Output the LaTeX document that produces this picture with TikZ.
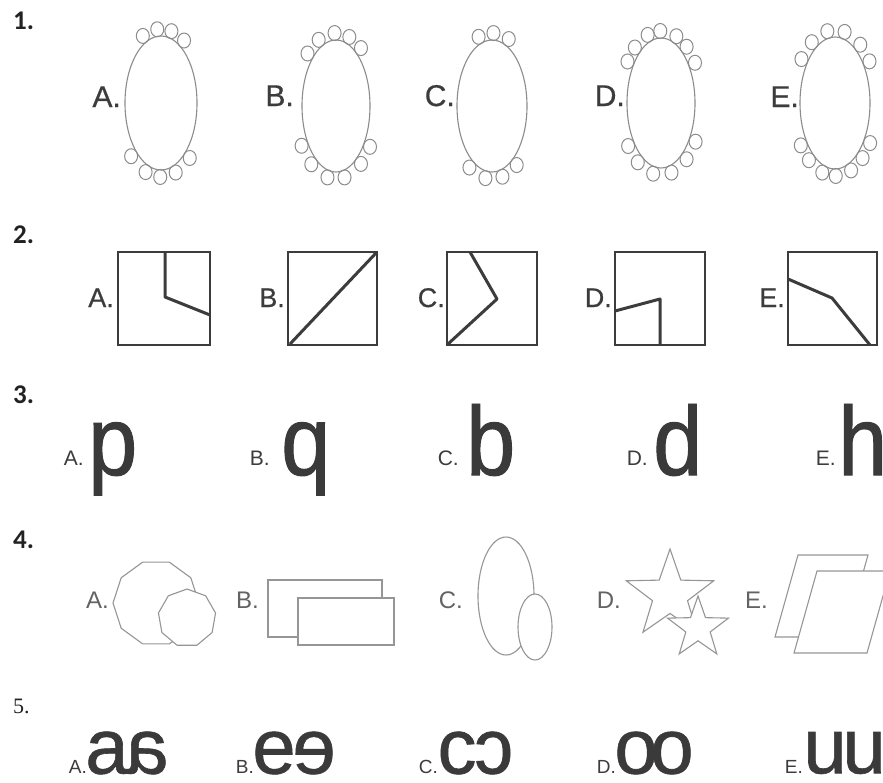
\documentclass[tikz,border=0pt]{standalone}
\usepackage{fontspec}
\setmainfont{Liberation Sans}
\newfontfamily\numfont{Carlito}
\newfontfamily\serfont{Liberation Serif}
\newfontfamily\bigfont[FakeStretch=0.9, FakeBold=1]{Liberation Sans}
\newfontfamily\pairfont[FakeBold=0.8]{Liberation Sans}
\newfontfamily\labfont[FakeBold=0.6]{Liberation Sans}
\usetikzlibrary{shapes.geometric}
\definecolor{labc}{RGB}{60,60,60}
\definecolor{ringc}{RGB}{140,140,140}
\definecolor{boxc}{RGB}{60,60,60}
\definecolor{shapec}{RGB}{150,150,150}
\definecolor{bigc}{RGB}{58,58,58}
\definecolor{numc}{RGB}{34,34,34}
\begin{document}
\begin{tikzpicture}[x=1pt,y=-1pt,
  num/.style={font=\numfont\bfseries\fontsize{27}{27}\selectfont, text=numc, anchor=base west, inner sep=0},
  numser/.style={font=\serfont\fontsize{22}{22}\selectfont, text=numc, anchor=base west, inner sep=0},
  labA/.style={font=\labfont\fontsize{30}{30}\selectfont, text=labc, anchor=base east, inner sep=0},
  labB/.style={font=\labfont\fontsize{27}{27}\selectfont, text=labc, anchor=base east, inner sep=0},
  labC/.style={font=\fontsize{21}{21}\selectfont, text=labc, anchor=base east, inner sep=0},
  labD/.style={font=\fontsize{24}{24}\selectfont, text=labc!80, anchor=base east, inner sep=0},
  labE/.style={font=\fontsize{19}{19}\selectfont, text=labc, anchor=base east, inner sep=0},
  ring/.style={draw=ringc, line width=1.1pt},
  bead/.style={draw=ringc, line width=1pt},
  sq/.style={draw=boxc, line width=1.8pt},
  cut/.style={draw=boxc, line width=3pt, line join=round},
  thin/.style={draw=shapec, line width=1.1pt, fill=white},
  big/.style={font=\bigfont\fontsize{98}{98}\selectfont, text=bigc, anchor=base west, inner sep=0},
  pair/.style={font=\pairfont\fontsize{78}{78}\selectfont, text=bigc, anchor=center, inner sep=0},
]
\useasboundingbox[fill=white] (0,0) rectangle (883,782);

% ---------- row 1
\node[num] (n1) at (13,29) {1.};
\node[labA] (l1a) at (121,107) {A.};
\draw[ring] (161,103) ellipse [x radius=36, y radius=67];
\foreach \t in {115,95,76,57.6,226,249,269,290,312}
  \draw[bead] ([shift={(161,103)}]-\t:43 and 74) ellipse [x radius=6.5, y radius=7.5];
\node[labA] (l1b) at (294,106) {B.};
\draw[ring] (336,106) ellipse [x radius=34, y radius=66];
\foreach \t in {134,115,92,71,52.5,213,233,258,282,307.5,326}
  \draw[bead] ([shift={(336,106)}]-\t:41 and 73) ellipse [x radius=6.5, y radius=7.5];
\node[labA] (l1c) at (455,106) {C.};
\draw[ring] (492,106) ellipse [x radius=35, y radius=66];
\foreach \t in {108.6,88,66.5,237.5,261,284.4,306}
  \draw[bead] ([shift={(492,106)}]-\t:42 and 73) ellipse [x radius=6.5, y radius=7.5];
\node[labA] (l1d) at (625,106) {D.};
\draw[ring] (661,103) ellipse [x radius=34, y radius=65];
\foreach \t in {144.8,129.6,109,91,68,51.4,34,216.7,235.5,259,284.8,308.6,327.5}
  \draw[bead] ([shift={(661,103)}]-\t:41 and 72) ellipse [x radius=6.5, y radius=7.5];
\node[labA] (l1e) at (799,107) {E.};
\draw[ring] (835,103) ellipse [x radius=35, y radius=66];
\foreach \t in {143,123.6,100.5,76.8,53,34.8,215.5,231.6,252.4,271,292.5,311,326.7}
  \draw[bead] ([shift={(835,103)}]-\t:42 and 73) ellipse [x radius=6.5, y radius=7.5];

% ---------- row 2
\node[num] (n2) at (13,243) {2.};
\node[labB] (l2a) at (114,307) {A.};
\draw[sq] (118,252) rectangle (210,345);
\draw[cut] (165,252) -- (165,297) -- (210,315);
\node[labB] (l2b) at (285,307) {B.};
\draw[sq] (288,252) rectangle (377,345);
\draw[cut] (290,344) -- (376,253);
\node[labB] (l2c) at (445,307) {C.};
\draw[sq] (447,252) rectangle (537,345);
\draw[cut] (470,252) -- (497,299) -- (448,344);
\node[labB] (l2d) at (612,307) {D.};
\draw[sq] (615,252) rectangle (705,345);
\draw[cut] (615,311) -- (660,299) -- (660,345);
\node[labB] (l2e) at (785,307) {E.};
\draw[sq] (788,252) rectangle (877,345);
\draw[cut] (788,279) -- (832,298) -- (870,345);

% ---------- row 3
\node[num] (n3) at (13,403) {3.};
\node[labC] (l3a) at (84,465) {A.};
\node[big] (g3a) at (88,475) {p};
\node[labC] (l3b) at (270,465) {B.};
\node[big] (g3b) at (281,475) {q};
\node[labC] (l3c) at (459,465) {C.};
\node[big] (g3c) at (466,475) {b};
\node[labC] (l3d) at (648,465) {D.};
\node[big] (g3d) at (653,475) {d};
\node[labC] (l3e) at (836,465) {E.};
\node[big] (g3e) at (838,475) {h};

% ---------- row 4
\node[num] (n4) at (13,548) {4.};
\node[labD] (l4a) at (109,608) {A.};
\node[thin, regular polygon, regular polygon sides=10, minimum size=86pt, inner sep=0] (p4a1) at (156,603) {};
\node[thin, regular polygon, regular polygon sides=9, minimum size=58pt, inner sep=0] (p4a2) at (187,618) {};
\node[labD] (l4b) at (259,608) {B.};
\draw[thin] (268,580) rectangle (382,637);
\draw[thin] (298,598) rectangle (394,645);
\node[labD] (l4c) at (463,608) {C.};
\draw[thin] (506,596) ellipse [x radius=28, y radius=59];
\draw[thin] (535,627) ellipse [x radius=17, y radius=33];
\node[labD] (l4d) at (621,608) {D.};
\node[thin, star, star points=5, star point ratio=2.5, minimum size=92pt, inner sep=0] (s4d1) at (670,595) {};
\node[thin, star, star points=5, star point ratio=2.5, minimum size=64pt, inner sep=0] (s4d2) at (698,628) {};
\node[labD] (l4e) at (768,608) {E.};
\draw[thin] (798,555) -- (868,555) -- (845,637) -- (775,637) -- cycle;
\draw[thin] (817,571) -- (890,571) -- (867,653) -- (794,653) -- cycle;

% ---------- row 5
\node[numser] (n5) at (13,713) {5.};
\node[labE] (l5a) at (87,773) {A.};
\node[pair] (g5a1) at (107,753) {a};
\node[pair] (g5a2) at (147,753) {\reflectbox{a}};
\node[labE] (l5b) at (254,773) {B.};
\node[pair] (g5b1) at (274,753) {e};
\node[pair] (g5b2) at (314,753) {\reflectbox{e}};
\node[labE] (l5c) at (438,773) {C.};
\node[pair] (g5c1) at (457,753) {c};
\node[pair] (g5c2) at (494,753) {\reflectbox{c}};
\node[labE] (l5d) at (616,773) {D.};
\node[pair] (g5d1) at (636,753) {o};
\node[pair] (g5d2) at (672,753) {o};
\node[labE] (l5e) at (803,773) {E.};
\node[pair] (g5e1) at (825,753) {u};
\node[pair] (g5e2) at (864,753) {u};
\end{tikzpicture}
\end{document}
